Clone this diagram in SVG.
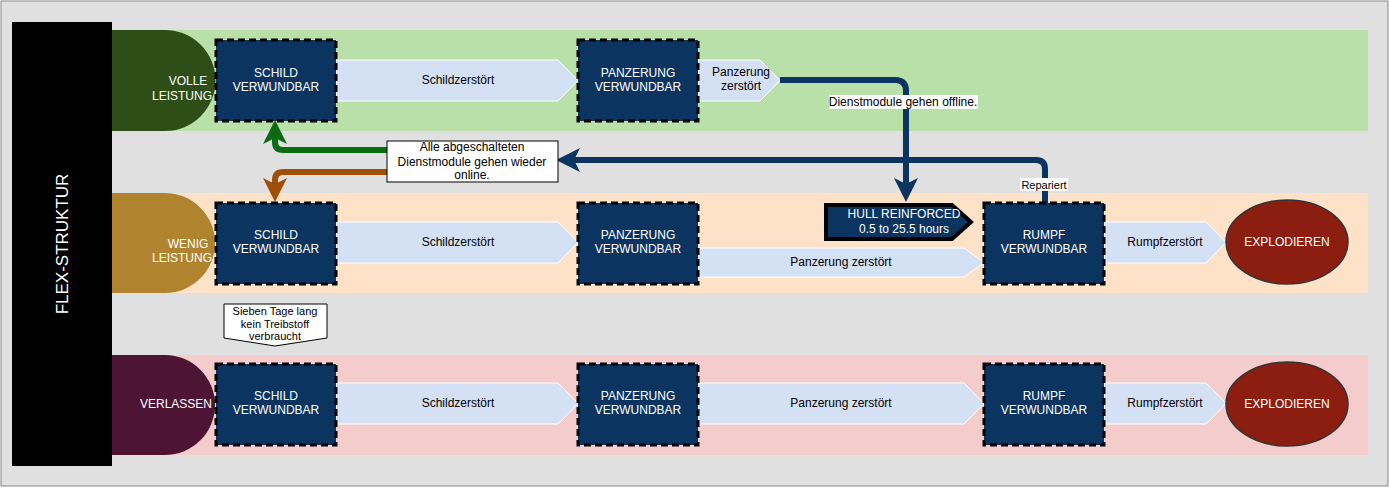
<svg xmlns="http://www.w3.org/2000/svg" width="1390" height="488" viewBox="0 0 1390 488">
<style>
text{font-family:"Liberation Sans",Arial,sans-serif;font-size:12px;text-anchor:middle}
.w{fill:#fff}.k{fill:#000}
.box{fill:#0b3560;stroke:#000;stroke-width:3;stroke-dasharray:7,4}
.chev{fill:#d4e1f4;stroke:#fff;stroke-width:1}
.exp{fill:#8b1e10;stroke:#333;stroke-width:1.5}
.con{fill:none;stroke-width:6;stroke-linejoin:round}
</style>
<defs>
<marker id="ab" markerWidth="4" markerHeight="4" refX="2" refY="2" orient="auto" markerUnits="strokeWidth"><path d="M0,0L4,2L0,4L1,2z" fill="#0b3560"/></marker>
<marker id="ag" markerWidth="4" markerHeight="4" refX="2" refY="2" orient="auto" markerUnits="strokeWidth"><path d="M0,0L4,2L0,4L1,2z" fill="#0a6b12"/></marker>
<marker id="ao" markerWidth="4" markerHeight="4" refX="2" refY="2" orient="auto" markerUnits="strokeWidth"><path d="M0,0L4,2L0,4L1,2z" fill="#a14f08"/></marker>
</defs>
<rect x="1" y="1" width="1387" height="485" fill="#e0e0e0" stroke="#888"/>
<g id="title"><rect x="12" y="22" width="100" height="444" fill="#000"/><text class="w" transform="translate(68,244) rotate(-90)" style="font-size:17px">FLEX-STRUKTUR</text></g>
<g id="lanes">
<rect x="112" y="30" width="1256" height="101" fill="#b9e0a8"/>
<rect x="112" y="193" width="1256" height="100" fill="#fde2c8"/>
<rect x="112" y="355" width="1256" height="100" fill="#f4cccc"/>
</g>
<g id="heads">
<path d="M112,30H165A50,50 0 0 1 165,131H112z" fill="#2d4f17"/><text class="w" x="188" y="85">VOLLE</text><text class="w" x="182" y="100">LEISTUNG</text>
<path d="M112,193H165A50,50 0 0 1 165,293H112z" fill="#b0842f"/><text class="w" x="188" y="248">WENIG</text><text class="w" x="182" y="262">LEISTUNG</text>
<path d="M112,355H165A50,50 0 0 1 165,455H112z" fill="#4d1434"/><text class="w" x="176" y="408">VERLASSEN</text>
</g>
<g id="chevrons">
<path class="chev" d="M336,60H558L578,80.5L558,101H336z"/><text x="458" y="84">Schildzerstört</text>
<path class="chev" d="M698,60H760L780,80.5L760,101H698z"/><text x="741" y="76">Panzerung</text><text x="741" y="90">zerstört</text>
<path class="chev" d="M336,222H558L578,242.5L558,263H336z"/><text x="458" y="246">Schildzerstört</text>
<path class="chev" d="M698,248H964L984,262.5L964,277H698z"/><text x="841" y="266">Panzerung zerstört</text>
<path class="chev" d="M1104,222H1206L1226,242.5L1206,263H1104z"/><text x="1165" y="246">Rumpfzerstört</text>
<path class="chev" d="M336,383H558L578,403.5L558,424H336z"/><text x="458" y="407">Schildzerstört</text>
<path class="chev" d="M698,383H964L984,403.5L964,424H698z"/><text x="841" y="407">Panzerung zerstört</text>
<path class="chev" d="M1104,383H1206L1226,403.5L1206,424H1104z"/><text x="1165" y="407">Rumpfzerstört</text>
</g>
<g id="connectors">
<path class="con" stroke="#0b3560" d="M780,80H895Q906,80 906,91V190" marker-end="url(#ab)"/>
<path class="con" stroke="#0b3560" d="M1045,203V169Q1045,160 1036,160H568" marker-end="url(#ab)"/>
<path class="con" stroke="#0a6b12" d="M388,150H283Q275,150 275,142V132" marker-end="url(#ag)"/>
<path class="con" stroke="#a14f08" d="M388,172H283Q275,172 275,180V190" marker-end="url(#ao)"/>
<rect x="829" y="95" width="149" height="14" fill="#fff"/><text x="903" y="106">Dienstmodule gehen offline.</text>
<rect x="1020" y="178" width="48" height="13" fill="#fff"/><text x="1044" y="189" style="font-size:11px">Repariert</text>
</g>
<g id="n1"><rect class="box" x="216" y="40" width="120" height="81"/><text class="w" x="276" y="77">SCHILD</text><text class="w" x="276" y="91">VERWUNDBAR</text></g>
<g id="n2"><rect class="box" x="578" y="40" width="120" height="81"/><text class="w" x="638" y="77">PANZERUNG</text><text class="w" x="638" y="91">VERWUNDBAR</text></g>
<g id="n3"><rect class="box" x="216" y="203" width="120" height="81"/><text class="w" x="276" y="239">SCHILD</text><text class="w" x="276" y="253">VERWUNDBAR</text></g>
<g id="n4"><rect class="box" x="578" y="203" width="120" height="81"/><text class="w" x="638" y="239">PANZERUNG</text><text class="w" x="638" y="253">VERWUNDBAR</text></g>
<g id="n5"><rect class="box" x="984" y="203" width="120" height="81"/><text class="w" x="1044" y="239">RUMPF</text><text class="w" x="1044" y="253">VERWUNDBAR</text></g>
<g id="n6"><ellipse class="exp" cx="1287" cy="242" rx="61" ry="42"/><text class="w" x="1287" y="246">EXPLODIEREN</text></g>
<g id="n7"><rect class="box" x="216" y="364" width="120" height="81"/><text class="w" x="276" y="400">SCHILD</text><text class="w" x="276" y="414">VERWUNDBAR</text></g>
<g id="n8"><rect class="box" x="578" y="364" width="120" height="81"/><text class="w" x="638" y="400">PANZERUNG</text><text class="w" x="638" y="414">VERWUNDBAR</text></g>
<g id="n9"><rect class="box" x="984" y="364" width="120" height="81"/><text class="w" x="1044" y="400">RUMPF</text><text class="w" x="1044" y="414">VERWUNDBAR</text></g>
<g id="n10"><ellipse class="exp" cx="1287" cy="404" rx="61" ry="42"/><text class="w" x="1287" y="408">EXPLODIEREN</text></g>
<g id="hull"><path d="M826,205H952L971,222L952,239H826z" fill="#0b3560" stroke="#000" stroke-width="4"/><text class="w" x="904" y="218">HULL REINFORCED</text><text class="w" x="904" y="233">0.5 to 25.5 hours</text></g>
<g id="callout"><rect x="387" y="141" width="171" height="41" fill="#fff" stroke="#000"/><text x="472" y="151">Alle abgeschalteten</text><text x="472" y="166">Dienstmodule gehen wieder</text><text x="472" y="179">online.</text></g>
<g id="sieben"><path d="M224,304H327V338L275,346L224,338z" fill="#fff" stroke="#000"/><text x="275" y="315" style="font-size:11px">Sieben Tage lang</text><text x="275" y="328" style="font-size:11px">kein Treibstoff</text><text x="275" y="340" style="font-size:11px">verbraucht</text></g>
</svg>
